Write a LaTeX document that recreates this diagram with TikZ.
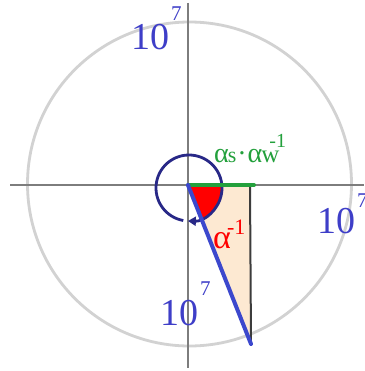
\documentclass[tikz,border=0pt]{standalone}
\usepackage{fontspec}
\setmainfont{Liberation Serif}
\usetikzlibrary{arrows.meta}
\definecolor{axisgray}{RGB}{125,125,125}
\definecolor{ringgray}{RGB}{210,210,210}
\definecolor{labelblue}{RGB}{62,62,200}
\definecolor{lineblue}{RGB}{60,72,205}
\definecolor{navy}{RGB}{40,40,135}
\definecolor{greenline}{RGB}{35,160,60}
\definecolor{peach}{RGB}{253,233,210}
\definecolor{darkline}{RGB}{60,60,60}
\tikzset{
  axis/.style={draw=axisgray, line width=1.6pt},
  ring/.style={draw=ringgray, line width=2.8pt},
  bluelabel/.style={text=labelblue, inner sep=0pt, anchor=base west},
  txt/.style={inner sep=0pt, anchor=base west}
}
\newcommand{\tenpow}[1]{{\fontsize{38}{38}\selectfont 10\hspace{2pt}\raisebox{#1}{\fontsize{21}{21}\selectfont 7}}}
\begin{document}
\begin{tikzpicture}[x=1pt,y=-1pt]
\useasboundingbox (0,0) rectangle (364,371);
\fill[white] (0,0) rectangle (364,371);
% coordinates
\coordinate (O) at (188,185);
\coordinate (C) at (189.5,184);
\coordinate (AxL) at (10,185);
\coordinate (AxR) at (364,185);
\coordinate (AxT) at (188,3);
\coordinate (AxB) at (188,368);
\coordinate (T) at (250,186);
\coordinate (B) at (251,344);
\coordinate (G) at (254,185);
\coordinate (N) at (189,188);
% big ring and axes
\draw[ring] (C) circle[radius=162];
\draw[axis] (AxL) -- (AxR);
\draw[axis] (AxT) -- (AxB);
% peach triangle
\fill[peach] (O) -- (T) -- (B) -- cycle;
% red sector
\fill[red] (189,187) -- ++(0:34) arc[start angle=0, end angle=68, radius=34] -- cycle;
% vertical dark line
\draw[darkline, line width=2pt] (T) -- (B);
% navy rotation circle with arrow
\draw[navy, line width=2.8pt, -{Triangle[length=8pt,width=9pt]}] (N) ++(100:33) arc[start angle=100, end angle=452, radius=33];
% green and blue lines
\draw[greenline, line width=4pt, line cap=round] (O) -- (G);
\draw[lineblue, line width=4pt, line cap=round] (O) -- (B);
% labels
\node[bluelabel] (ltop) at (131,50) {\tenpow{29pt}};
\node[bluelabel] (lright) at (317,233) {\tenpow{26pt}};
\node[bluelabel] (lbot) at (160,325) {\tenpow{30pt}};
\node[txt, text=red] (lalpha) at (213,248) {{\fontsize{34}{34}\selectfont α\kern-4pt\raisebox{14pt}{\fontsize{22}{22}\selectfont -1}}};
\node[txt, text=greenline] (lgreen) at (214,163) {{\fontsize{28}{28}\selectfont α\kern-1pt{\fontsize{22}{22}\selectfont s}\kern1pt·\kern1pt α\kern-1pt{\fontsize{25}{25}\selectfont w}\kern-10pt\raisebox{15pt}{\fontsize{20}{20}\selectfont -1}}};
\end{tikzpicture}
\end{document}
